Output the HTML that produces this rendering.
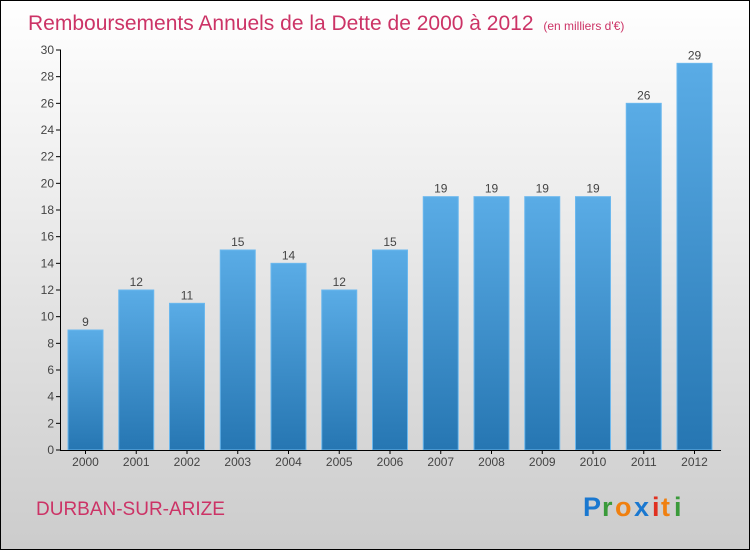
<!DOCTYPE html>
<html><head><meta charset="utf-8"><style>
html,body{margin:0;padding:0}
body{width:750px;height:550px;overflow:hidden;font-family:"Liberation Sans",sans-serif}
#wrap{position:absolute;left:0;top:0;width:748px;height:548px;border:1px solid #000;background:linear-gradient(#ffffff,#cccccc)}
</style></head><body>
<div id="wrap">
<svg id="chart" width="750" height="550" style="position:absolute;left:-1px;top:-1px">
<defs><linearGradient id="bg" x1="0" y1="0" x2="0" y2="1"><stop offset="0" stop-color="#5aace6"/><stop offset="1" stop-color="#2676b2"/></linearGradient></defs>
<text x="28" y="30" font-size="21" fill="#cc3366">Remboursements Annuels de la Dette de 2000 à 2012 <tspan font-size="12" dx="4">(en milliers d'€)</tspan></text>
<text x="36" y="515" font-size="19" fill="#cc3366">DURBAN-SUR-ARIZE</text>
<g font-size="27" font-weight="bold" font-family="Liberation Sans,sans-serif">
<text x="583" y="516" fill="#1a78d0">P</text><text x="602" y="516" fill="#3a9a3a">r</text><text x="615" y="516" fill="#f08010">o</text><text x="634" y="516" fill="#1a78d0">x</text><text x="652" y="516" fill="#e03020">i</text><text x="661" y="516" fill="#f08010">t</text><text x="674" y="516" fill="#3a9a3a">i</text>
</g>
<g id="plot"></g>
</svg></div>
<script>
const years=["2000","2001","2002","2003","2004","2005","2006","2007","2008","2009","2010","2011","2012"];
const values=[9,12,11,15,14,12,15,19,19,19,19,26,29];
const yTicks=[0,2,4,6,8,10,12,14,16,18,20,22,24,26,28,30];
const NS="http://www.w3.org/2000/svg";
const g=document.getElementById('plot');
const y=v=>450-v*400/30;
const x=i=>85.5+i*50.75;
function mk(t,a){const e=document.createElementNS(NS,t);for(const k in a)e.setAttribute(k,a[k]);g.appendChild(e);return e;}
yTicks.forEach(t=>{
 const l=mk('line',{x1:56,x2:61,y1:y(t),y2:y(t),stroke:'#000'});
 
 
 const tx=mk('text',{x:54,y:y(t)+4,'text-anchor':'end','font-size':12,fill:'#444'});
 tx.textContent=t;
 
 
});
values.forEach((v,i)=>{
 const r=mk('rect',{x:x(i)-17.5,y:y(v),width:35,height:450-y(v),fill:'url(#bg)',stroke:'#6bb8ee','stroke-width':1});
 
 
 const vt=mk('text',{x:x(i),y:y(v)-4,'text-anchor':'middle','font-size':12,fill:'#444'});
 vt.textContent=v;
 
 
 const xt=mk('text',{x:x(i),y:466,'text-anchor':'middle','font-size':12,fill:'#444'});
 xt.textContent=years[i];
 
 
 const tk=mk('line',{x1:x(i),x2:x(i),y1:450,y2:454,stroke:'#000'});
 
 
});
const ya=mk('line',{x1:60.5,x2:60.5,y1:50,y2:450,stroke:'#000'});


const xa=mk('line',{x1:60,x2:721,y1:450.5,y2:450.5,stroke:'#000'});


</script>
</body></html>
